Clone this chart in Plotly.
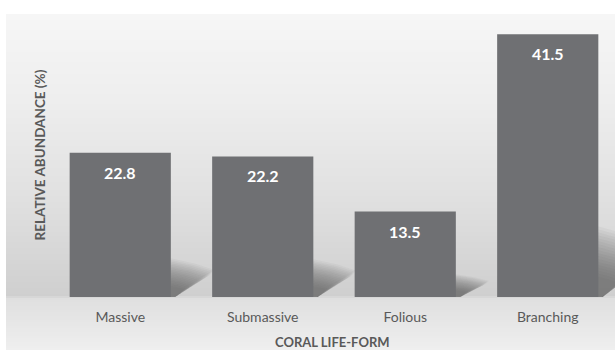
import plotly.graph_objects as go

# Coral life-form composition
categories = ["Massive", "Submassive", "Folious", "Branching"]
abundance = [22.8, 22.2, 13.5, 41.5]

x_title = "CORAL LIFE-FORM"
y_title = "RELATIVE ABUNDANCE (%)"

W, H = 615, 350
M_L, M_R, M_T, M_B = 49, 0, 14, 53
Y_MAX = 44.7
X_RANGE = [-0.5, 3.472]
BAR_W = 0.71
BAR_COLOR = "#6f7073"
TEXT_GREY = "#595959"
FONT = "Lato, 'Open Sans', sans-serif"

plot_h = H - M_T - M_B
plot_w = W - M_L - M_R


def px_to_paper_y(p):
    return (H - M_B - p) / plot_h


def px_to_paper_x(p):
    return (p - M_L) / plot_w


# vertical grey gradient behind the chart (pixel row -> grey level)
grad_stops = [(14, 246), (100, 238), (200, 224), (296, 207), (298, 223), (350, 239)]


def grey_at(p):
    for (p0, g0), (p1, g1) in zip(grad_stops, grad_stops[1:]):
        if p0 <= p <= p1:
            t = (p - p0) / (p1 - p0) if p1 != p0 else 0
            return g0 + (g1 - g0) * t
    return grad_stops[-1][1]


shapes = []
step = 2
for p in range(14, 350, step):
    g = int(round(grey_at(p + step / 2)))
    shapes.append(dict(
        type="rect", xref="paper", yref="paper", layer="below",
        x0=px_to_paper_x(6), x1=1.0,
        y0=px_to_paper_y(min(p + step + 1, 350)), y1=px_to_paper_y(p),
        fillcolor=f"rgb({g},{g},{g})", line=dict(width=0),
    ))

# soft cast shadow to the right of each bar, built from stacked translucent layers
n_layers = 18
for i, v in enumerate(abundance):
    xr = i + BAR_W / 2
    length = 0.12 + 0.007 * v
    for k in range(n_layers):
        s = 1.08 - 0.045 * k
        pts = [
            (xr - 0.01, 0),
            (xr - 0.01, 0.25 * v * s),
            (xr + 0.55 * length * s, 0.215 * v * s),
            (xr + length * s, 0.175 * v * s),
            (xr + length * s * 0.9, 0.14 * v * s),
            (xr + 0.03, 0),
        ]
        path = "M " + " L ".join(f"{a:.4f},{b:.4f}" for a, b in pts) + " Z"
        shapes.append(dict(
            type="path", xref="x", yref="y", layer="below", path=path,
            fillcolor="rgba(70,70,72,0.05)", line=dict(width=0),
        ))

xs = list(range(len(categories)))

fig = go.Figure(go.Bar(
    x=xs, y=abundance, width=BAR_W,
    marker=dict(color=BAR_COLOR, line=dict(width=0)),
    hoverinfo="skip",
))

annotations = [
    dict(x=x, y=v, xref="x", yref="y", text=f"<b>{v:.1f}</b>", showarrow=False,
         yanchor="top", yshift=-8, font=dict(family=FONT, size=16, color="white"))
    for x, v in zip(xs, abundance)
]
annotations.append(dict(
    x=0.5, y=px_to_paper_y(341.5), xref="paper", yref="paper", text=f"<b>{x_title}</b>",
    showarrow=False, xanchor="center", yanchor="middle",
    font=dict(family=FONT, size=13, color=TEXT_GREY),
))
annotations.append(dict(
    x=px_to_paper_x(39), y=0.5, xref="paper", yref="paper", text=f"<b>{y_title}</b>",
    showarrow=False, xanchor="center", yanchor="middle", textangle=-90,
    font=dict(family=FONT, size=13.5, color=TEXT_GREY),
))

fig.update_layout(
    width=W, height=H,
    margin=dict(l=M_L, r=M_R, t=M_T, b=M_B, pad=0),
    paper_bgcolor="white",
    plot_bgcolor="rgba(0,0,0,0)",
    showlegend=False,
    shapes=shapes,
    annotations=annotations,
    font=dict(family=FONT, color=TEXT_GREY),
    xaxis=dict(
        range=X_RANGE, tickvals=xs, ticktext=categories,
        showgrid=False, zeroline=False, showline=False, ticks="",
        ticklabelstandoff=10,
        tickfont=dict(family=FONT, size=14, color=TEXT_GREY),
        fixedrange=True,
    ),
    yaxis=dict(
        range=[0, Y_MAX], showgrid=False, zeroline=False, showline=False,
        showticklabels=False, ticks="", fixedrange=True,
    ),
)

fig.write_html("out.html")
